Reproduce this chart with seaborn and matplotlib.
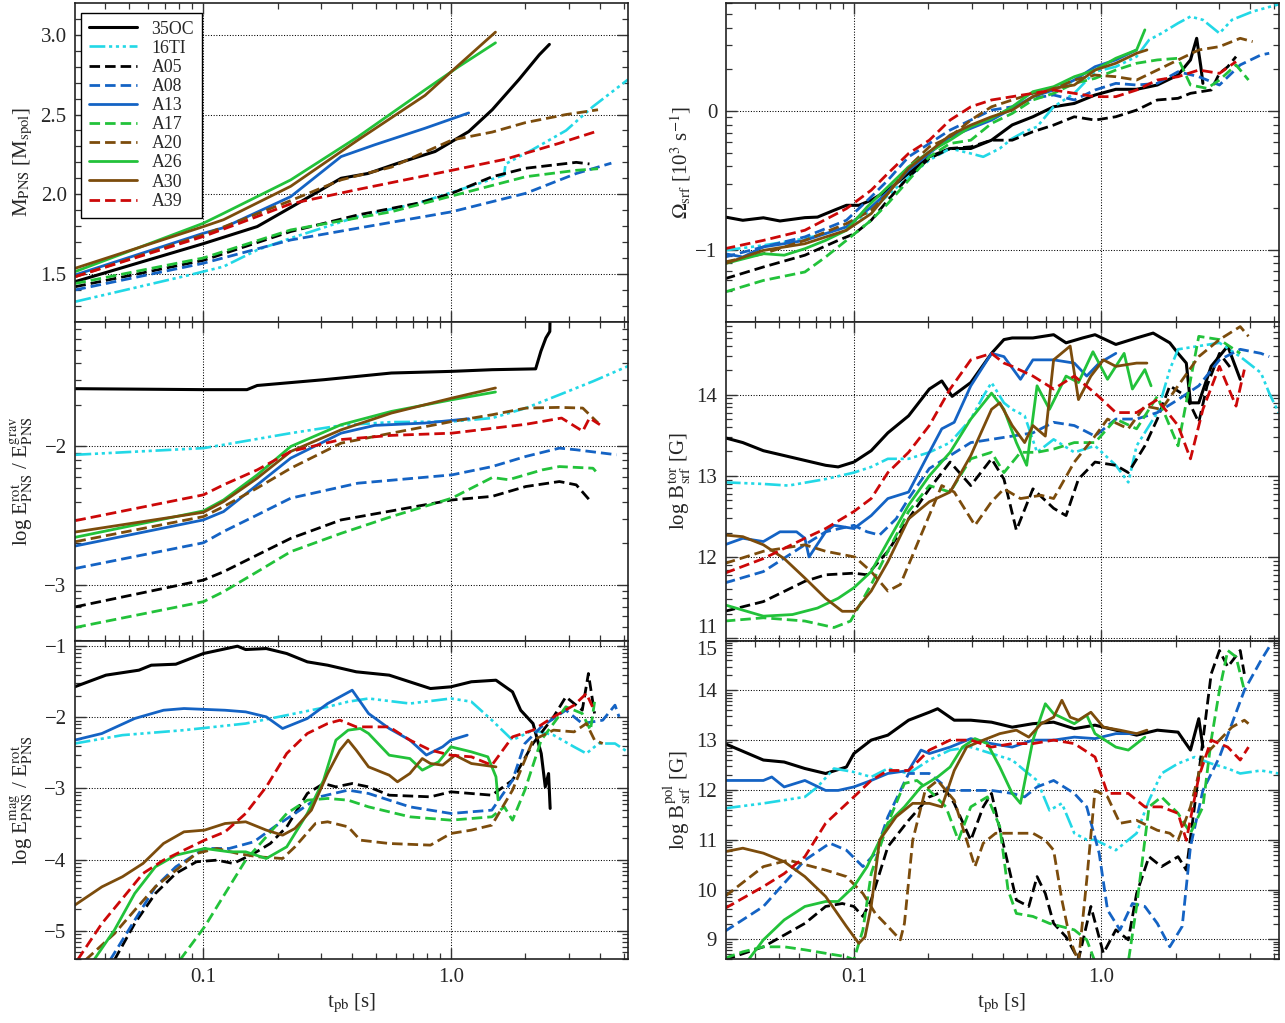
import numpy as np
import pandas as pd
import matplotlib
matplotlib.use("Agg")
import matplotlib.pyplot as plt
import seaborn as sns
from matplotlib.ticker import FixedLocator, FixedFormatter, NullFormatter, LogLocator

# ---------------- data (t_pb [s], value) ----------------
models = ["35OC", "16TI", "A05", "A08", "A13", "A17", "A20", "A26", "A30", "A39"]

# PNS mass
mass_35OC = [(0.0304,1.452),(0.1,1.69),(0.165,1.797),(0.248,1.954),(0.36,2.10),(0.462,2.13),(0.612,2.195),(0.863,2.268),(1.18,2.393),(1.469,2.53),(1.884,2.72),(2.276,2.875),(2.50,2.94)]
mass_16TI = [(0.0304,1.326),(0.0883,1.494),(0.1206,1.546),(0.165,1.65),(0.225,1.724),(0.421,1.86),(0.738,1.944),(1.256,2.06),(1.64,2.12),(1.663,2.19),(2.138,2.28),(2.92,2.40),(3.75,2.55),(5.2,2.72)]
mass_A05 = [(0.0304,1.42),(0.1,1.585),(0.2254,1.766),(0.421,1.87),(0.738,1.944),(1.009,2.006),(1.469,2.11),(2.008,2.163),(3.21,2.20),(3.63,2.19)]
mass_A08 = [(0.0304,1.40),(0.1,1.567),(0.2254,1.713),(0.421,1.787),(1.009,1.89),(2.008,2.006),(3.21,2.13),(4.45,2.195)]
mass_A13 = [(0.0304,1.494),(0.1,1.755),(0.1206,1.79),(0.2254,1.985),(0.36,2.236),(0.492,2.31),(0.786,2.414),(1.18,2.51)]
mass_A17 = [(0.0304,1.44),(0.1,1.60),(0.2254,1.776),(0.575,1.89),(1.074,2.0),(2.008,2.11),(3.21,2.15),(3.93,2.16)]
mass_A20 = [(0.0304,1.483),(0.1,1.745),(0.2254,1.96),(0.36,2.09),(0.575,2.17),(1.009,2.34),(1.469,2.39),(2.008,2.45),(2.92,2.50),(3.93,2.53)]
mass_A26 = [(0.0304,1.515),(0.1,1.818),(0.1206,1.88),(0.2254,2.09),(0.421,2.36),(0.786,2.655),(1.074,2.80),(1.514,2.95)]
mass_A30 = [(0.0304,1.536),(0.1,1.797),(0.1206,1.84),(0.2254,2.05),(0.421,2.34),(0.786,2.62),(1.074,2.81),(1.514,3.017)]
mass_A39 = [(0.0304,1.483),(0.1,1.735),(0.141,1.82),(0.2254,1.94),(0.421,2.03),(1.009,2.15),(1.663,2.22),(2.744,2.32),(3.8,2.39)]

# log E_rot / E_grav
erot_35OC = [(0.0304,-1.583),(0.1,-1.59),(0.15,-1.59),(0.165,-1.56),(0.308,-1.518),(0.421,-1.494),(0.575,-1.47),(1.009,-1.458),(1.469,-1.446),(2.2,-1.44),(2.31,-1.313),(2.42,-1.217),(2.51,-1.17),(2.52,-1.0)]
erot_16TI = [(0.0304,-2.06),(0.1,-2.012),(0.1206,-1.988),(0.2254,-1.904),(0.36,-1.848),(0.575,-1.824),(1.009,-1.82),(1.469,-1.795),(2.008,-1.723),(2.744,-1.627),(3.75,-1.53),(5.2,-1.42)]
erot_A05 = [(0.0304,-3.157),(0.1,-2.964),(0.1206,-2.904),(0.165,-2.783),(0.2254,-2.663),(0.36,-2.53),(0.575,-2.465),(1.009,-2.386),(1.469,-2.36),(2.008,-2.289),(2.744,-2.253),(3.21,-2.277),(3.63,-2.386)]
erot_A08 = [(0.0304,-2.88),(0.1,-2.695),(0.1206,-2.614),(0.165,-2.494),(0.2254,-2.373),(0.421,-2.265),(1.009,-2.205),(1.469,-2.145),(2.008,-2.072),(2.744,-2.012),(3.21,-2.024),(4.67,-2.06)]
erot_A13 = [(0.0304,-2.718),(0.1,-2.53),(0.1206,-2.47),(0.165,-2.277),(0.2254,-2.084),(0.36,-1.904),(0.492,-1.848),(0.786,-1.831),(1.18,-1.80)]
erot_A17 = [(0.0304,-3.306),(0.1,-3.12),(0.1206,-3.048),(0.165,-2.904),(0.2254,-2.759),(0.36,-2.627),(0.575,-2.506),(1.009,-2.373),(1.469,-2.224),(1.71,-2.24),(2.34,-2.169),(2.744,-2.145),(3.75,-2.157),(3.85,-2.18)]
erot_A20 = [(0.0304,-2.687),(0.1,-2.506),(0.1206,-2.434),(0.165,-2.30),(0.2254,-2.157),(0.36,-1.976),(0.575,-1.904),(1.009,-1.82),(1.469,-1.771),(2.008,-1.723),(2.744,-1.718),(3.41,-1.723),(3.93,-1.83)]
erot_A26 = [(0.0304,-2.655),(0.1,-2.465),(0.1206,-2.386),(0.165,-2.205),(0.2254,-2.0),(0.36,-1.843),(0.575,-1.747),(1.009,-1.663),(1.514,-1.607)]
erot_A30 = [(0.0304,-2.617),(0.1,-2.475),(0.1206,-2.398),(0.165,-2.229),(0.2254,-2.036),(0.36,-1.88),(0.575,-1.759),(1.009,-1.651),(1.514,-1.578)]
erot_A39 = [(0.0304,-2.535),(0.1,-2.349),(0.1206,-2.277),(0.165,-2.169),(0.2254,-2.036),(0.36,-1.95),(0.575,-1.92),(1.009,-1.904),(2.008,-1.84),(2.8,-1.795),(3.41,-1.89),(3.63,-1.795),(4.0,-1.843)]

# log E_mag / E_rot
emag_35OC = [(0.0302,-1.571),(0.0404,-1.407),(0.0549,-1.337),(0.0616,-1.267),(0.0774,-1.253),(0.1,-1.103),(0.1373,-1.0),(0.1482,-1.047),(0.1795,-1.033),(0.2171,-1.103),(0.263,-1.22),(0.3177,-1.267),(0.4146,-1.36),(0.5634,-1.407),(0.8267,-1.595),(1.0,-1.571),(1.21,-1.50),(1.521,-1.478),(1.774,-1.642),(1.914,-1.9),(2.147,-2.087),(2.317,-2.508),(2.406,-2.977),(2.481,-2.79),(2.518,-3.28)]
emag_16TI = [(0.0302,-2.368),(0.0471,-2.25),(0.0835,-2.18),(0.1482,-2.087),(0.2171,-1.97),(0.3177,-1.852),(0.3844,-1.78),(0.4648,-1.735),(0.6829,-1.806),(1.0,-1.735),(1.21,-1.78),(1.464,-2.04),(1.774,-2.32),(2.147,-2.18),(2.599,-2.25),(3.146,-2.415),(3.527,-2.508),(3.952,-2.368),(4.603,-2.368),(5.2,-2.49)]
emag_A05 = [(0.0437,-5.41),(0.0528,-4.897),(0.064,-4.475),(0.0774,-4.194),(0.0937,-4.03),(0.1134,-4.007),(0.1321,-4.054),(0.16,-3.913),(0.1864,-3.773),(0.2171,-3.539),(0.263,-3.07),(0.3059,-2.93),(0.3431,-2.977),(0.3992,-2.93),(0.4648,-2.977),(0.5634,-3.094),(0.8267,-3.117),(1.0,-3.047),(1.464,-3.094),(1.774,-2.883),(2.147,-2.368),(2.599,-1.993),(2.914,-1.712),(3.395,-1.899),(3.594,-1.384),(3.806,-1.946)]
emag_A08 = [(0.042,-5.41),(0.0528,-4.85),(0.064,-4.382),(0.0774,-4.10),(0.1011,-3.843),(0.1272,-3.843),(0.16,-3.749),(0.1936,-3.539),(0.2344,-3.351),(0.2945,-3.117),(0.3844,-3.023),(0.4648,-3.07),(0.6829,-3.258),(1.0,-3.351),(1.464,-3.304),(1.774,-2.883),(1.99,-2.368),(2.317,-2.134),(2.914,-1.899),(3.395,-2.087),(4.107,-2.04),(4.603,-1.829),(4.782,-1.993)]
emag_A13 = [(0.0302,-2.32),(0.0389,-2.227),(0.0528,-2.016),(0.069,-1.90),(0.0835,-1.876),(0.1224,-1.90),(0.1482,-1.923),(0.1795,-1.993),(0.2089,-2.157),(0.263,-2.016),(0.3177,-1.806),(0.3992,-1.618),(0.4648,-1.946),(0.5634,-2.157),(0.6829,-2.32),(0.796,-2.53),(0.9261,-2.414),(1.0,-2.32),(1.164,-2.25)]
emag_A17 = [(0.0804,-5.41),(0.1011,-4.944),(0.1224,-4.475),(0.1482,-4.007),(0.1795,-3.679),(0.2171,-3.351),(0.263,-3.164),(0.3177,-3.14),(0.3844,-3.164),(0.4648,-3.258),(0.6829,-3.398),(1.0,-3.445),(1.464,-3.398),(1.643,-3.258),(1.774,-3.445),(1.99,-3.023),(2.317,-2.32),(2.914,-1.852),(3.395,-1.946),(3.664,-2.18),(3.806,-1.782)]
emag_A20 = [(0.0334,-5.41),(0.0437,-5.04),(0.0528,-4.71),(0.064,-4.38),(0.0774,-4.15),(0.0937,-3.913),(0.1134,-3.843),(0.1373,-3.913),(0.1662,-3.96),(0.2089,-3.984),(0.2344,-3.82),(0.2836,-3.492),(0.3177,-3.468),(0.3844,-3.539),(0.4306,-3.726),(0.5634,-3.773),(0.8267,-3.796),(1.0,-3.632),(1.21,-3.585),(1.464,-3.515),(1.774,-3.023),(2.147,-2.32),(2.599,-2.18),(3.146,-2.204),(3.527,-2.087),(3.806,-2.32),(4.107,-2.368)]
emag_A26 = [(0.0361,-5.41),(0.0437,-4.99),(0.0528,-4.475),(0.064,-4.1),(0.0774,-3.937),(0.1011,-3.843),(0.1272,-3.89),(0.1482,-3.89),(0.1795,-3.984),(0.2171,-3.82),(0.263,-3.351),(0.3059,-2.883),(0.3431,-2.32),(0.3844,-2.18),(0.4306,-2.157),(0.4648,-2.227),(0.5634,-2.532),(0.6829,-2.579),(0.7664,-2.742),(0.8917,-2.625),(1.0,-2.414),(1.21,-2.485),(1.41,-2.555),(1.521,-2.836),(1.551,-3.16)]
emag_A30 = [(0.0302,-4.64),(0.0389,-4.382),(0.0471,-4.24),(0.057,-4.054),(0.069,-3.773),(0.0835,-3.609),(0.1011,-3.585),(0.1224,-3.492),(0.1482,-3.468),(0.1795,-3.585),(0.2089,-3.656),(0.2344,-3.562),(0.2731,-3.304),(0.3177,-2.789),(0.3563,-2.461),(0.3844,-2.32),(0.4146,-2.461),(0.4648,-2.696),(0.5634,-2.813),(0.6083,-2.906),(0.6829,-2.789),(0.7664,-2.579),(0.8267,-2.649),(0.9261,-2.672),(1.039,-2.532),(1.21,-2.649),(1.521,-2.696)]
emag_A39 = [(0.031,-5.41),(0.0389,-4.897),(0.0471,-4.546),(0.057,-4.194),(0.069,-4.007),(0.0835,-3.866),(0.1011,-3.726),(0.1224,-3.609),(0.1482,-3.351),(0.1795,-2.977),(0.2171,-2.508),(0.263,-2.227),(0.3177,-2.087),(0.3563,-2.04),(0.4146,-2.134),(0.5634,-2.134),(0.6829,-2.32),(0.8267,-2.461),(1.0,-2.532),(1.21,-2.555),(1.464,-2.672),(1.774,-2.274),(2.147,-2.18),(2.599,-1.993),(3.146,-1.829),(3.527,-1.665),(3.735,-1.852)]

# Omega_srf
omega_35OC = [(0.0301,-0.764),(0.0356,-0.788),(0.0431,-0.77),(0.0503,-0.793),(0.0634,-0.769),(0.0713,-0.765),(0.0831,-0.716),(0.0933,-0.68),(0.1047,-0.68),(0.1175,-0.643),(0.1372,-0.571),(0.1664,-0.45),(0.2018,-0.33),(0.2448,-0.27),(0.2968,-0.27),(0.3599,-0.21),(0.4363,-0.10),(0.529,-0.041),(0.6414,0.031),(0.7775,0.055),(0.9427,0.116),(1.144,0.157),(1.388,0.157),(1.683,0.188),(2.041,0.26),(2.291,0.369),(2.427,0.525),(2.523,0.32),(2.572,0.2)]
omega_16TI = [(0.0301,-1.005),(0.0431,-0.969),(0.0634,-0.92),(0.0769,-0.884),(0.0933,-0.836),(0.1175,-0.716),(0.1664,-0.475),(0.2018,-0.354),(0.2448,-0.27),(0.2968,-0.306),(0.3332,-0.33),(0.3887,-0.27),(0.4363,-0.198),(0.4898,-0.149),(0.5498,-0.113),(0.6414,0.031),(0.7775,0.128),(0.9427,0.284),(1.144,0.32),(1.388,0.393),(1.558,0.513),(1.749,0.561),(2.041,0.634),(2.291,0.682),(2.572,0.658),(3.0,0.561),(3.369,0.658),(4.085,0.718),(5.2,0.77)]
omega_A05 = [(0.0301,-1.21),(0.0431,-1.125),(0.0634,-1.04),(0.0864,-0.933),(0.1008,-0.884),(0.1175,-0.788),(0.1372,-0.643),(0.1664,-0.475),(0.2018,-0.342),(0.2448,-0.27),(0.2968,-0.258),(0.3599,-0.21),(0.4363,-0.21),(0.529,-0.149),(0.6414,-0.101),(0.7775,-0.041),(0.9427,-0.065),(1.144,-0.041),(1.388,0.007),(1.683,0.08),(2.041,0.092),(2.291,0.128),(2.778,0.152),(3.0,0.272),(3.241,0.32),(3.501,0.393)]
omega_A08 = [(0.0301,-1.053),(0.0431,-0.98),(0.0634,-0.908),(0.0933,-0.788),(0.1175,-0.619),(0.1372,-0.499),(0.1664,-0.33),(0.2018,-0.234),(0.2448,-0.137),(0.2968,-0.065),(0.3599,0.007),(0.4363,0.031),(0.529,0.092),(0.6414,0.116),(0.7775,0.08),(0.9427,0.152),(1.144,0.20),(1.388,0.188),(1.683,0.20),(2.041,0.284),(2.475,0.248),(3.0,0.188),(3.639,0.333),(4.413,0.405),(4.767,0.417)]
omega_A13 = [(0.0301,-1.029),(0.0356,-1.053),(0.0431,-0.98),(0.0523,-0.957),(0.0634,-0.933),(0.0769,-0.884),(0.0933,-0.836),(0.1175,-0.692),(0.1372,-0.583),(0.1664,-0.427),(0.2018,-0.306),(0.2448,-0.186),(0.2968,-0.125),(0.3599,-0.065),(0.4363,0.019),(0.529,0.104),(0.6414,0.152),(0.7775,0.224),(0.9427,0.32),(1.144,0.369),(1.388,0.441)]
omega_A17 = [(0.0301,-1.306),(0.0431,-1.222),(0.0634,-1.161),(0.0769,-1.053),(0.0933,-0.933),(0.1175,-0.788),(0.1372,-0.667),(0.1664,-0.499),(0.2018,-0.33),(0.2448,-0.234),(0.2968,-0.21),(0.3599,-0.089),(0.4363,-0.017),(0.529,0.08),(0.6414,0.128),(0.7775,0.20),(0.9427,0.236),(1.144,0.296),(1.388,0.345),(1.683,0.369),(2.041,0.381),(2.291,0.188),(2.673,0.164),(3.0,0.224),(3.501,0.333),(3.931,0.224)]
omega_A20 = [(0.0301,-1.089),(0.0431,-1.029),(0.0634,-0.933),(0.0933,-0.812),(0.1175,-0.716),(0.1372,-0.595),(0.1664,-0.402),(0.2018,-0.258),(0.2448,-0.186),(0.2968,-0.065),(0.3599,0.031),(0.4363,0.08),(0.529,0.128),(0.6414,0.164),(0.7775,0.224),(0.9427,0.26),(1.144,0.248),(1.388,0.224),(1.683,0.296),(2.041,0.369),(2.475,0.441),(3.0,0.465),(3.639,0.525),(4.085,0.501)]
omega_A26 = [(0.0301,-1.101),(0.0431,-1.029),(0.0523,-1.04),(0.0634,-0.993),(0.0769,-0.933),(0.0933,-0.86),(0.1131,-0.692),(0.1372,-0.547),(0.1664,-0.402),(0.2018,-0.294),(0.2448,-0.21),(0.2968,-0.113),(0.3599,-0.053),(0.4363,0.031),(0.529,0.14),(0.6414,0.176),(0.7775,0.248),(0.9427,0.296),(1.144,0.381),(1.388,0.441),(1.499,0.586)]
omega_A30 = [(0.0301,-1.101),(0.0431,-1.005),(0.0634,-0.957),(0.0933,-0.86),(0.1175,-0.74),(0.1372,-0.595),(0.1664,-0.414),(0.2018,-0.294),(0.2448,-0.173),(0.2968,-0.101),(0.3599,-0.041),(0.4363,0.007),(0.529,0.104),(0.6414,0.164),(0.7775,0.188),(0.9427,0.296),(1.144,0.345),(1.388,0.417),(1.528,0.441)]
omega_A39 = [(0.0301,-0.993),(0.0431,-0.933),(0.0634,-0.86),(0.0933,-0.704),(0.1175,-0.571),(0.1372,-0.45),(0.1664,-0.306),(0.2018,-0.21),(0.2448,-0.065),(0.2968,0.031),(0.3599,0.08),(0.4363,0.104),(0.529,0.128),(0.6414,0.152),(0.7775,0.128),(0.9427,0.104),(1.144,0.104),(1.388,0.152),(1.683,0.224),(2.041,0.248),(2.475,0.296),(3.0,0.272),(3.501,0.357)]

# log B_tor
btor_35OC = [(0.0301,13.47),(0.0356,13.41),(0.0431,13.31),(0.0523,13.25),(0.0634,13.19),(0.0769,13.13),(0.0864,13.11),(0.1,13.17),(0.1175,13.31),(0.1372,13.53),(0.1664,13.74),(0.2018,14.07),(0.2266,14.17),(0.2495,13.98),(0.2968,14.15),(0.3599,14.51),(0.404,14.68),(0.4363,14.70),(0.529,14.70),(0.6414,14.74),(0.7199,14.64),(0.8398,14.70),(0.9427,14.74),(1.144,14.62),(1.388,14.70),(1.619,14.76),(1.89,14.64),(2.041,14.51),(2.204,14.39),(2.291,13.90),(2.475,13.90),(2.778,14.35),(3.241,14.60),(3.639,14.19)]
btor_16TI = [(0.0301,12.92),(0.0431,12.90),(0.0544,12.88),(0.0769,12.96),(0.1,13.04),(0.1175,13.11),(0.1372,13.21),(0.1664,13.21),(0.2018,13.29),(0.2448,13.41),(0.2968,13.70),(0.3332,13.98),(0.3599,14.15),(0.404,13.90),(0.4363,13.82),(0.4898,13.74),(0.5498,13.29),(0.6414,13.45),(0.7775,13.29),(0.9427,13.37),(1.144,13.13),(1.285,12.92),(1.388,13.37),(1.683,13.78),(1.89,14.31),(2.041,14.56),(2.475,14.60),(3.0,14.64),(3.639,14.47),(4.413,14.27),(4.767,14.02),(5.2,13.78)]
btor_A05 = [(0.0301,11.33),(0.0431,11.45),(0.0634,11.70),(0.0769,11.78),(0.1,11.80),(0.1131,11.78),(0.1372,12.07),(0.1664,12.47),(0.2018,12.84),(0.2448,13.17),(0.2968,12.88),(0.3599,13.21),(0.404,12.96),(0.4535,12.33),(0.529,12.84),(0.6414,12.60),(0.7199,12.51),(0.8081,12.96),(0.9427,13.17),(1.144,13.13),(1.285,13.04),(1.499,13.37),(1.683,13.70),(1.89,14.11),(2.204,13.98),(2.475,13.66),(2.673,14.11),(3.0,14.51),(3.369,14.31)]
btor_A08 = [(0.0301,11.68),(0.0431,11.82),(0.0634,12.15),(0.0769,12.31),(0.1,12.39),(0.1131,12.31),(0.127,12.27),(0.1482,12.47),(0.1664,12.72),(0.2018,13.09),(0.2448,13.25),(0.2968,13.41),(0.3599,13.45),(0.4363,13.49),(0.529,13.53),(0.6414,13.66),(0.7775,13.62),(0.9427,13.49),(1.144,13.70),(1.388,13.70),(1.683,13.78),(2.041,13.94),(2.475,14.11),(3.0,14.43),(3.639,14.56),(4.413,14.51),(4.767,14.47)]
btor_A13 = [(0.0301,12.15),(0.0356,12.23),(0.0431,12.19),(0.0503,12.31),(0.0587,12.31),(0.0634,12.23),(0.0659,12.0),(0.0769,12.31),(0.0831,12.39),(0.1,12.35),(0.1175,12.51),(0.1372,12.72),(0.1664,12.80),(0.2018,13.29),(0.2266,13.58),(0.2544,13.66),(0.2968,14.11),(0.3599,14.51),(0.404,14.47),(0.4713,14.19),(0.529,14.43),(0.6414,14.43),(0.7775,14.39),(0.8728,14.23),(0.9797,14.39),(1.144,14.51)]
btor_A17 = [(0.0301,11.21),(0.0431,11.25),(0.0634,11.21),(0.0831,11.13),(0.097,11.21),(0.1175,11.66),(0.1372,12.07),(0.1664,12.56),(0.2018,12.88),(0.2448,12.80),(0.2968,13.21),(0.3599,13.29),(0.404,13.04),(0.4713,13.29),(0.5498,13.29),(0.6414,13.33),(0.7775,13.41),(0.9427,13.41),(1.144,13.70),(1.388,13.58),(1.683,13.98),(2.041,13.37),(2.475,14.72),(3.0,14.68),(3.639,14.51)]
btor_A20 = [(0.0301,11.92),(0.0431,12.07),(0.0634,12.15),(0.0769,12.07),(0.1008,12.0),(0.1175,11.82),(0.1372,11.58),(0.1541,11.66),(0.1868,12.27),(0.2266,12.88),(0.2544,12.80),(0.3085,12.39),(0.3599,12.68),(0.404,12.84),(0.4713,12.72),(0.5714,12.76),(0.6414,12.72),(0.7775,13.17),(0.9427,13.49),(1.059,13.70),(1.285,13.58),(1.499,13.86),(1.749,13.82),(2.041,14.11),(2.475,14.47),(3.0,14.68),(3.639,14.84),(3.931,14.72)]
btor_A26 = [(0.0301,11.41),(0.0431,11.27),(0.0565,11.29),(0.0713,11.37),(0.0864,11.49),(0.1,11.62),(0.1175,11.82),(0.1372,12.19),(0.1664,12.64),(0.2018,13.00),(0.2448,13.29),(0.2968,13.70),(0.3599,14.02),(0.404,13.82),(0.4535,13.41),(0.4993,13.13),(0.5498,14.11),(0.6171,13.82),(0.7199,14.23),(0.8081,14.15),(0.9248,14.53),(1.059,14.19),(1.236,14.51),(1.335,14.07),(1.499,14.31),(1.588,14.11)]
btor_A30 = [(0.0301,12.27),(0.0356,12.25),(0.0431,12.15),(0.0523,11.98),(0.0634,11.74),(0.0769,11.49),(0.0898,11.33),(0.1008,11.33),(0.1175,11.58),(0.1372,11.94),(0.1664,12.47),(0.2018,12.68),(0.2448,12.80),(0.2968,13.25),(0.3599,13.82),(0.3887,13.90),(0.4363,13.62),(0.4898,13.41),(0.529,13.62),(0.5938,13.49),(0.6414,14.43),(0.7482,14.60),(0.8081,13.94),(0.9071,14.23),(1.019,14.43),(1.144,14.35),(1.388,14.39),(1.528,14.39)]
btor_A39 = [(0.0301,11.80),(0.0431,11.98),(0.0634,12.23),(0.0769,12.35),(0.1,12.56),(0.1175,12.72),(0.1372,13.04),(0.1664,13.29),(0.2018,13.62),(0.2448,14.07),(0.2968,14.43),(0.3599,14.51),(0.404,14.39),(0.4363,14.35),(0.529,14.23),(0.6414,14.07),(0.7775,14.23),(0.9427,14.02),(1.144,13.78),(1.388,13.78),(1.683,13.94),(2.041,13.62),(2.291,13.21),(2.572,13.82),(3.0,14.35),(3.501,13.86),(3.782,14.31)]

# log B_pol
bpol_35OC = [(0.0301,12.93),(0.0431,12.60),(0.0523,12.56),(0.0634,12.43),(0.0769,12.33),(0.0933,12.46),(0.1,12.73),(0.1175,13.0),(0.1372,13.10),(0.1664,13.40),(0.2018,13.56),(0.218,13.63),(0.2544,13.40),(0.2968,13.40),(0.3599,13.36),(0.4363,13.26),(0.529,13.33),(0.6414,13.36),(0.7775,13.23),(0.9427,13.30),(1.144,13.20),(1.388,13.10),(1.683,13.20),(2.041,13.16),(2.291,12.80),(2.475,13.43),(2.572,12.86)]
bpol_16TI = [(0.0301,11.63),(0.0431,11.73),(0.0634,11.86),(0.0713,12.06),(0.0831,12.43),(0.1,12.36),(0.1175,12.26),(0.1372,12.43),(0.1664,12.33),(0.2018,12.60),(0.2448,12.80),(0.2968,12.86),(0.3599,12.73),(0.4363,12.60),(0.4898,12.39),(0.5498,12.19),(0.6171,11.59),(0.6927,11.73),(0.7775,11.13),(0.8728,11.0),(0.9427,11.0),(1.144,10.79),(1.388,11.13),(1.558,11.79),(1.749,12.33),(2.041,12.53),(2.381,12.66),(2.778,12.53),(3.241,12.43),(3.639,12.33),(4.413,12.39),(5.2,12.33)]
bpol_A05 = [(0.0301,8.59),(0.0431,8.85),(0.0634,9.32),(0.0769,9.66),(0.0898,9.72),(0.1,9.66),(0.1088,9.46),(0.1175,9.79),(0.1372,10.86),(0.1664,11.39),(0.2018,11.86),(0.2355,11.99),(0.2544,11.73),(0.2968,10.99),(0.3332,11.66),(0.3599,11.93),(0.404,10.86),(0.4535,9.79),(0.509,9.66),(0.5498,10.26),(0.5938,9.92),(0.6414,9.32),(0.7199,9.05),(0.8081,8.59),(0.9071,9.66),(1.019,8.72),(1.144,9.19),(1.285,8.99),(1.388,9.92),(1.558,10.66),(1.749,10.46),(2.041,10.66),(2.204,10.39),(2.475,12.33),(2.778,14.33),(3.0,14.80),(3.241,14.47),(3.639,14.80),(3.782,14.33)]
bpol_A08 = [(0.0301,9.16),(0.0431,9.66),(0.0634,10.59),(0.08,10.93),(0.0933,10.79),(0.1088,10.46),(0.1221,10.73),(0.1372,11.46),(0.1664,12.33),(0.2018,12.33),(0.2448,11.99),(0.2968,11.99),(0.3599,11.99),(0.4363,11.93),(0.4898,11.86),(0.5498,12.06),(0.6414,12.19),(0.7775,11.93),(0.8728,11.66),(0.9797,10.73),(1.059,9.59),(1.189,9.19),(1.335,9.72),(1.499,9.66),(1.683,9.32),(1.89,8.85),(2.121,9.26),(2.291,10.86),(2.572,11.99),(3.0,12.66),(3.369,13.33),(3.782,14.0),(4.413,14.60),(4.767,14.87)]
bpol_A13 = [(0.0301,12.19),(0.0431,12.19),(0.0466,12.26),(0.0523,12.06),(0.0634,12.19),(0.0769,11.99),(0.0864,11.99),(0.1,12.06),(0.1175,12.19),(0.1372,12.33),(0.1664,12.39),(0.1868,12.80),(0.2018,12.73),(0.2448,12.86),(0.2968,13.03),(0.3599,12.93),(0.4363,12.86),(0.529,13.0),(0.6414,13.0),(0.7775,13.06),(0.9427,13.03),(1.144,13.13),(1.388,13.13)]
bpol_A17 = [(0.0301,8.62),(0.0356,8.75),(0.0431,8.85),(0.0523,8.85),(0.0634,8.79),(0.0769,8.72),(0.0933,8.65),(0.1,8.59),(0.1088,9.19),(0.1175,10.32),(0.1372,11.33),(0.1601,12.13),(0.1798,12.19),(0.2018,11.99),(0.2355,11.66),(0.2644,10.99),(0.2968,11.66),(0.3463,11.86),(0.3887,11.26),(0.4198,9.99),(0.4535,9.52),(0.529,9.46),(0.6171,9.32),(0.7775,9.19),(0.8728,8.99),(0.9427,8.55),(1.285,8.55),(1.388,9.66),(1.558,11.66),(1.749,11.86),(2.041,11.53),(2.291,11.13),(2.572,11.66),(2.778,13.0),(3.0,14.0),(3.241,14.80),(3.501,14.67),(3.782,14.0)]
bpol_A20 = [(0.0301,9.86),(0.0431,10.46),(0.0544,10.59),(0.0769,10.39),(0.0933,10.26),(0.1088,9.92),(0.1221,9.52),(0.1372,9.26),(0.1541,8.99),(0.1601,9.32),(0.1729,10.99),(0.1942,11.99),(0.218,12.19),(0.2544,11.79),(0.2856,10.99),(0.3085,10.46),(0.3332,10.93),(0.374,11.13),(0.4363,11.13),(0.529,11.13),(0.5938,10.99),(0.6414,10.79),(0.6927,9.79),(0.7482,8.99),(0.8081,8.55),(0.8728,10.19),(0.9427,11.99),(1.059,11.86),(1.189,11.33),(1.388,11.39),(1.683,11.19),(1.89,11.13),(2.041,10.99),(2.291,11.66),(2.572,12.66),(3.0,13.0),(3.369,13.26),(3.782,13.40),(3.931,13.33)]
bpol_A26 = [(0.0375,8.59),(0.0431,8.99),(0.0523,9.39),(0.0634,9.66),(0.0769,9.76),(0.0864,9.76),(0.1,10.06),(0.1131,10.46),(0.1372,11.33),(0.1601,11.66),(0.1868,12.06),(0.218,12.26),(0.2448,12.46),(0.2748,12.86),(0.3085,13.03),(0.3463,12.93),(0.3887,12.46),(0.4363,11.93),(0.4713,11.73),(0.529,13.0),(0.5938,13.73),(0.6414,13.53),(0.7775,13.33),(0.8728,13.50),(0.9427,13.13),(1.144,12.86),(1.285,12.80),(1.388,12.93),(1.499,13.06)]
bpol_A30 = [(0.0301,10.76),(0.0356,10.83),(0.0431,10.73),(0.0523,10.56),(0.0634,10.26),(0.0769,9.86),(0.0933,9.26),(0.1047,8.92),(0.1109,9.05),(0.1175,9.66),(0.127,10.99),(0.1482,11.46),(0.1729,11.73),(0.2018,11.73),(0.2266,11.66),(0.2544,12.39),(0.2856,12.86),(0.3332,13.0),(0.3887,13.13),(0.4535,13.20),(0.509,13.06),(0.5714,13.33),(0.6414,13.46),(0.6927,13.80),(0.7482,13.46),(0.8081,13.40),(0.9071,13.56),(1.019,13.26),(1.189,13.20),(1.388,13.13),(1.528,13.20)]
bpol_A39 = [(0.0301,9.62),(0.0431,10.06),(0.0523,10.32),(0.0634,10.66),(0.0769,11.33),(0.1,11.86),(0.1175,12.19),(0.1372,12.39),(0.1664,12.39),(0.2018,12.80),(0.2448,13.0),(0.2968,13.0),(0.3599,12.86),(0.4363,12.93),(0.529,12.93),(0.6414,13.0),(0.7775,12.93),(0.9427,12.66),(1.059,11.93),(1.285,11.93),(1.499,11.66),(1.749,11.66),(2.041,11.53),(2.204,10.99),(2.475,12.26),(2.778,13.0),(3.241,12.86),(3.639,12.60),(3.931,12.86)]

# tick labels
xtick_vals = [0.1, 1.0]
xtick_labels = ["0.1", "1.0"]

# ---------------- style ----------------
sns.set_theme(style="ticks")
plt.rcParams["font.family"] = ["Liberation Serif", "DejaVu Serif"]
plt.rcParams["mathtext.fontset"] = "stix"
plt.rcParams["axes.unicode_minus"] = True

colors = {"35OC": "#000000", "16TI": "#22d8e6", "A05": "#000000", "A08": "#1463c4",
          "A13": "#1463c4", "A17": "#22c23a", "A20": "#7c4c0c", "A26": "#22c23a",
          "A30": "#7c4c0c", "A39": "#cc0808"}
DASH = (0, (3.8, 1.8))
DDD = (0, (6.0, 1.4, 1.2, 1.4, 1.2, 1.4, 1.2, 1.4))
styles = {"35OC": "-", "16TI": DDD, "A05": DASH, "A08": DASH, "A13": "-", "A17": DASH,
          "A20": DASH, "A26": "-", "A30": "-", "A39": DASH}
widths = {m: 2.0 for m in models}
widths["35OC"] = 2.2
widths["16TI"] = 1.9

panels = [
    ("mass", [mass_35OC, mass_16TI, mass_A05, mass_A08, mass_A13, mass_A17, mass_A20, mass_A26, mass_A30, mass_A39]),
    ("omega", [omega_35OC, omega_16TI, omega_A05, omega_A08, omega_A13, omega_A17, omega_A20, omega_A26, omega_A30, omega_A39]),
    ("erot", [erot_35OC, erot_16TI, erot_A05, erot_A08, erot_A13, erot_A17, erot_A20, erot_A26, erot_A30, erot_A39]),
    ("btor", [btor_35OC, btor_16TI, btor_A05, btor_A08, btor_A13, btor_A17, btor_A20, btor_A26, btor_A30, btor_A39]),
    ("emag", [emag_35OC, emag_16TI, emag_A05, emag_A08, emag_A13, emag_A17, emag_A20, emag_A26, emag_A30, emag_A39]),
    ("bpol", [bpol_35OC, bpol_16TI, bpol_A05, bpol_A08, bpol_A13, bpol_A17, bpol_A20, bpol_A26, bpol_A30, bpol_A39]),
]

cfg = {
    "mass": dict(ylim=(1.20, 3.20), major=[1.5, 2.0, 2.5, 3.0], labels=["1.5", "2.0", "2.5", "3.0"],
                 minor="lin", ylabel=r"M$_{\rm PNS}$ [M$_{\rm spol}$]"),
    "omega": dict(ylim=(-1.52, 0.78), major=[-1, 0], labels=["\u22121", "0"], minor="log",
                  ylabel=r"$\Omega_{\rm srf}$ [10$^{3}$ s$^{-1}$]"),
    "erot": dict(ylim=(-3.40, -1.10), major=[-3, -2], labels=["\u22123", "\u22122"], minor="log",
                 ylabel=r"log E$^{\rm rot}_{\rm PNS}$ / E$^{\rm grav}_{\rm PNS}$"),
    "btor": dict(ylim=(10.97, 14.90), major=[11, 12, 13, 14], labels=["11", "12", "13", "14"], minor="log",
                 ylabel=r"log B$^{\rm tor}_{\rm srf}$ [G]"),
    "emag": dict(ylim=(-5.40, -0.92), major=[-5, -4, -3, -2, -1],
                 labels=["\u22125", "\u22124", "\u22123", "\u22122", "\u22121"], minor="log",
                 ylabel=r"log E$^{\rm mag}_{\rm PNS}$ / E$^{\rm rot}_{\rm PNS}$"),
    "bpol": dict(ylim=(8.60, 15.0), major=[9, 10, 11, 12, 13, 14, 15],
                 labels=["9", "10", "11", "12", "13", "14", "15"], minor="log",
                 ylabel=r"log B$^{\rm pol}_{\rm srf}$ [G]"),
}

fig = plt.figure(figsize=(12.85, 10.23), dpi=100)
col_x = [0.0584, 0.5646]
col_w = 0.4304
row_y = [0.6855, 0.3739, 0.0623]
row_h = 0.3116


def minor_positions(lo, hi, kind):
    if kind == "lin":
        return [v for v in np.arange(np.floor(lo * 10) / 10, hi + 0.001, 0.1)
                if lo <= v <= hi and abs(v * 2 - round(v * 2)) > 1e-6]
    out = []
    for n in range(int(np.floor(lo)) - 1, int(np.ceil(hi)) + 1):
        for k in range(2, 10):
            v = n + np.log10(k)
            if lo <= v <= hi:
                out.append(v)
    return out


for idx, (key, series) in enumerate(panels):
    row, col = idx // 2, idx % 2
    ax = fig.add_axes([col_x[col], row_y[row], col_w, row_h])
    for name, pts in zip(models, series):
        df = pd.DataFrame(pts, columns=["t", "v"])
        sns.lineplot(data=df, x="t", y="v", ax=ax, color=colors[name], lw=widths[name],
                     linestyle=styles[name], sort=False, estimator=None, label=name,
                     legend=False)
    c = cfg[key]
    ax.set_xscale("log")
    ax.set_xlim(0.0303, 5.2)
    ax.set_ylim(*c["ylim"])
    ax.xaxis.set_major_locator(FixedLocator(xtick_vals))
    ax.xaxis.set_major_formatter(FixedFormatter(xtick_labels))
    ax.xaxis.set_minor_locator(LogLocator(base=10, subs=np.arange(2, 10)))
    ax.xaxis.set_minor_formatter(NullFormatter())
    ax.yaxis.set_major_locator(FixedLocator(c["major"]))
    ax.yaxis.set_major_formatter(FixedFormatter(c["labels"]))
    ax.yaxis.set_minor_locator(FixedLocator(minor_positions(c["ylim"][0], c["ylim"][1], c["minor"])))
    ax.tick_params(which="both", direction="in", top=True, right=True, labelsize=15,
                   color="#333333", pad=6)
    ax.tick_params(which="major", length=8, width=1.0)
    ax.tick_params(which="minor", length=4.5, width=0.9)
    ax.grid(True, which="major", color="black", linestyle=(0, (1, 1.6)), linewidth=0.75)
    for s in ax.spines.values():
        s.set_color("#222222")
        s.set_linewidth(1.2)
    ax.set_ylabel(c["ylabel"], fontsize=15)
    ax.yaxis.set_label_coords(-0.072 if col == 0 else -0.058, 0.5)
    # end labels nudged inward, as in the reference
    if key == "btor":
        ax.yaxis.get_major_ticks()[0].label1.set_verticalalignment("bottom")
    if key == "bpol":
        ax.yaxis.get_major_ticks()[-1].label1.set_verticalalignment("top")
    if row < 2:
        ax.tick_params(labelbottom=False)
        ax.set_xlabel("")
    else:
        ax.set_xlabel(r"t$_{\rm pb}$ [s]", fontsize=15, labelpad=4)
    if key == "mass":
        leg = ax.legend(loc="upper left", bbox_to_anchor=(0.011, 0.97), borderaxespad=0,
                        fontsize=12.8, frameon=True, fancybox=False, edgecolor="black",
                        framealpha=1, handlelength=2.7, labelspacing=0.12, borderpad=0.45,
                        handletextpad=0.8)
        leg.get_frame().set_linewidth(1.0)

fig.savefig("out.png", dpi=100)
